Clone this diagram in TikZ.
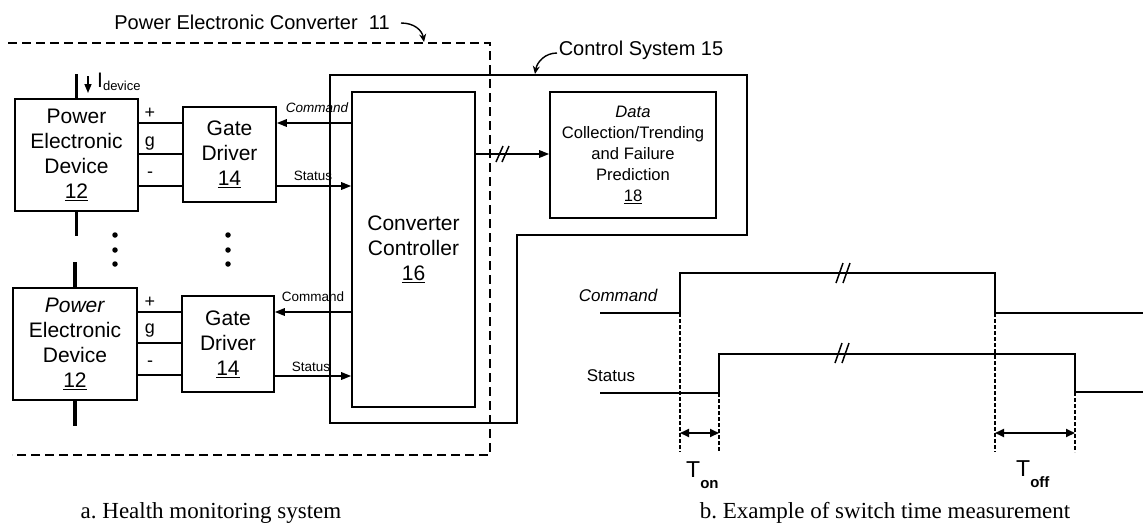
\documentclass[tikz,border=0pt]{standalone}
\usepackage{fontspec}
\setmainfont{Liberation Sans}
\newfontfamily\capfont{Liberation Serif}
\usetikzlibrary{arrows.meta,calc}
\frenchspacing
\begin{document}
\begin{tikzpicture}[x=1pt,y=-1pt,
  box/.style={draw, line width=1.6pt, inner sep=0pt, align=center},
  big/.style={font=\fontsize{21}{25}\selectfont},
  mid/.style={font=\fontsize{16.6}{21}\selectfont},
  sml/.style={font=\fontsize{13.5}{14}\selectfont, inner sep=0pt},
  wlbl/.style={font=\fontsize{17}{18}\selectfont, inner sep=0pt},
  ttl/.style={font=\fontsize{20}{22}\selectfont, inner sep=0pt},
  captext/.style={font=\capfont\fontsize{23}{25}\selectfont, inner sep=0pt},
  tlbl/.style={inner sep=0pt, anchor=base west},
  termlbl/.style={font=\fontsize{18}{18}\selectfont, inner sep=0pt},
  term/.style={line width=3.2pt},
  wire/.style={line width=1.6pt},
  sig/.style={line width=1.6pt, -{Triangle[length=10pt,width=7.5pt]}},
  wave/.style={line width=2pt},
  guide/.style={line width=1.2pt, dash pattern=on 4pt off 2pt},
  dimarr/.style={line width=1.8pt, {Triangle[length=9pt,width=8pt]}-{Triangle[length=9pt,width=8pt]}},
  dot/.style={circle, fill, inner sep=0pt, minimum size=5.5pt},
  tick/.style={line width=1.5pt},
  curly/.style={line width=1.4pt, -{Stealth[length=8pt,width=7pt]}}
]
\useasboundingbox (0,0) rectangle (1143,525);

% outer dashed converter boundary
\draw[line width=1.5pt, dash pattern=on 9pt off 5pt] (8,43) -- (490,43) -- (490,455) -- (12,455);
% control system outline
\draw[line width=1.3pt] (330,75) -- (747,75) -- (747,235) -- (517,235) -- (517,423) -- (330,423) -- cycle;

% titles
\node[ttl] (pectitle) at (252,22) {Power Electronic Converter\ \ 11};
\coordinate (pecA) at (401,23);
\coordinate (pecB) at (424,42);
\draw[curly] (pecA) .. controls (414,23) and (422,30) .. (pecB);
\node[ttl] (cstitle) at (641,50) {Control System 15};
\coordinate (csA) at (557,53);
\coordinate (csB) at (535,74);
\draw[curly] (csA) .. controls (545,53) and (537,62) .. (csB);

% devices and gate drivers
\node[box, big, minimum width=123pt, minimum height=112pt] (dev1) at (76.5,155) {Power\\Electronic\\Device\\\underline{12}};
\node[box, big, minimum width=93pt, minimum height=95pt] (gd1) at (229.5,154.5) {Gate\\Driver\\\underline{14}};
\node[box, big, minimum width=124pt, minimum height=112pt] (dev2) at (75,344) {\textit{Power}\\Electronic\\Device\\\underline{12}};
\node[box, big, minimum width=92pt, minimum height=96pt] (gd2) at (228,344) {Gate\\Driver\\\underline{14}};
\node[box, big, minimum width=123pt, minimum height=315pt] (ctl) at (413.5,249.5) {Converter\\Controller\\\underline{16}};
\node[box, mid, minimum width=166pt, minimum height=126pt] (dat) at (633,155) {\textit{Data}\\Collection/Trending\\and Failure\\Prediction\\\underline{18}};

% terminals
\draw[term] (dev1.north) -- ++(0,-24);
\draw[term] (dev1.south) -- ++(0,24);
\draw[term] (dev2.north) -- ++(0,-25);
\draw[term] (dev2.south) -- ++(0,25);
\coordinate (ia) at (88,76);
\draw[line width=1.5pt, -{Triangle[length=9pt,width=7pt]}] (ia) -- ++(0,17);
\node[tlbl, font=\fontsize{21}{21}\selectfont] (idev) at (97,87) {I\raisebox{-3pt}{\fontsize{13}{13}\selectfont device}};

% gate wires
\foreach \yy in {123,154,186} \draw[wire] (dev1.east |- 0,\yy) -- (gd1.west |- 0,\yy);
\foreach \yy in {312,343,375} \draw[wire] (dev2.east |- 0,\yy) -- (gd2.west |- 0,\yy);
\node[termlbl] (p1) at (150,113) {+};
\node[termlbl] (g1) at (150,144) {g};
\node[termlbl] (m1) at (150,175) {-};
\node[termlbl] (p2) at (150,302) {+};
\node[termlbl] (g2) at (150,331) {g};
\node[termlbl] (m2) at (150,364) {-};

% dots
\foreach \yy/\nm in {235/a,250/b,264/c} {
  \node[dot] (dl\nm) at (115,\yy) {};
  \node[dot] (dr\nm) at (228,\yy) {};
}

% command/status signals
\draw[sig] (ctl.west |- 0,123) -- (gd1.east |- 0,123);
\draw[sig] (gd1.east |- 0,186) -- (ctl.west |- 0,186);
\draw[sig] (ctl.west |- 0,312) -- (gd2.east |- 0,312);
\draw[sig] (gd2.east |- 0,376) -- (ctl.west |- 0,376);
\node[sml, font=\fontsize{13.5}{14}\selectfont\itshape] (cmd1) at (317,108) {Command};
\node[sml] (st1) at (313,176) {Status};
\node[sml] (cmd2) at (313,297) {Command};
\node[sml] (st2) at (311,367) {Status};

% controller to data
\draw[sig] (ctl.east |- 0,154) -- (dat.west |- 0,154);
\draw[tick] (496,162) -- (503,146);
\draw[tick] (502,162) -- (509,146);

% waveforms
\node[wlbl, font=\fontsize{17}{18}\selectfont\itshape] (wcmd) at (618,295) {Command};
\node[wlbl] (wst) at (611,376) {Status};
\coordinate (c0) at (600,313);
\coordinate (c1) at (680,313);
\coordinate (c2) at (680,273);
\coordinate (c3) at (995,273);
\coordinate (c4) at (995,313);
\coordinate (c5) at (1143,313);
\draw[wave] (c0) -- (c1) -- (c2) -- (c3) -- (c4) -- (c5);
\coordinate (s0) at (600,393);
\coordinate (s1) at (719,393);
\coordinate (s2) at (719,354);
\coordinate (s3) at (1075,354);
\coordinate (s4) at (1075,392);
\coordinate (s5) at (1143,392);
\draw[wave] (s0) -- (s1) -- (s2) -- (s3) -- (s4) -- (s5);
\draw[tick] (836,283) -- (843,263);
\draw[tick] (843,283) -- (850,263);
\draw[tick] (835,363) -- (842,343);
\draw[tick] (842,363) -- (849,343);

% guides
\coordinate (g1b) at (680,452);
\coordinate (g2b) at (719,452);
\coordinate (g3b) at (995,452);
\coordinate (g4b) at (1075,452);
\draw[guide] (c1) -- (g1b);
\draw[guide] (s1) -- (g2b);
\draw[guide] (c4) -- (g3b);
\draw[guide] (s4) -- (g4b);
\draw[dimarr] (680,433) -- (719,433);
\draw[dimarr] (995,433) -- (1075,433);
\node[tlbl] (ton) at (686,477) {\fontsize{23}{23}\selectfont T\raisebox{-11pt}{\fontsize{15}{15}\selectfont\bfseries on}};
\node[tlbl] (toff) at (1016,476) {\fontsize{23}{23}\selectfont T\raisebox{-11pt}{\fontsize{15}{15}\selectfont\bfseries off}};

% captions
\node[captext] (capa) at (211,513) {a. Health monitoring system};
\node[captext] (capb) at (885,513) {b. Example of switch time measurement};
\end{tikzpicture}
\end{document}
